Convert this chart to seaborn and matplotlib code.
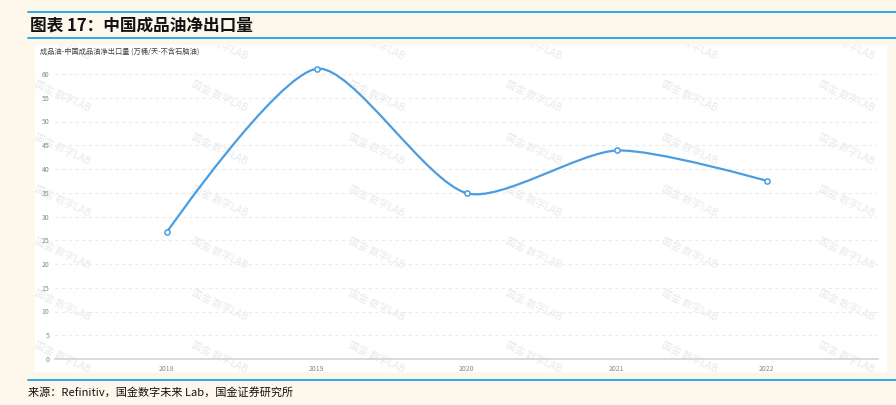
import numpy as np
import pandas as pd
import matplotlib
matplotlib.use("Agg")
import matplotlib.pyplot as plt
from matplotlib.path import Path
from matplotlib.patches import PathPatch, Rectangle
from matplotlib.lines import Line2D
import seaborn as sns

# --- data ---
years = ["2018", "2019", "2020", "2021", "2022"]
net_exports = [26.7, 61.1, 34.9, 43.9, 37.5]
y_ticks = list(range(0, 61, 5))

TITLE = "图表 17：中国成品油净出口量"
AXIS_NOTE = "成品油-中国成品油净出口量 (万桶/天-不含石脑油)"
SOURCE = "来源：Refinitiv，国金数字未来 Lab，国金证券研究所"
WATERMARK = "国金 数字LAB"

BG = "#fdf8eb"
LINE_BLUE = "#4a9de2"
RULE_BLUE = "#1aa2e8"

sns.set_theme(style="white")
plt.rcParams["font.family"] = ["Noto Sans CJK SC", "DejaVu Sans"]

df = pd.DataFrame({"year": years, "value": net_exports})
df["pos"] = np.arange(len(df))

W, H = 896, 405
fig = plt.figure(figsize=(W / 100, H / 100), dpi=100, facecolor=BG)

# white chart panel
panel = Rectangle((35 / W, 33 / H), 852 / W, 327 / H, transform=fig.transFigure,
                  facecolor="white", edgecolor="none", zorder=-2)
fig.patches.append(panel)

# faint watermarks on the panel
for cx in [62, 219, 376, 533, 689, 846]:
    for cy in [45, 97, 150, 202, 254, 306, 358]:
        t = fig.text(cx / W, 1 - cy / H, WATERMARK, fontsize=7.2, color="#e9e9e9",
                     rotation=-25, rotation_mode="anchor", ha="center", va="center", zorder=-1)
        t.set_clip_path(panel)

# blue rules, title, source
for yy in [12, 38, 380]:
    fig.add_artist(Line2D([28 / W, 1], [1 - yy / H] * 2, transform=fig.transFigure,
                          color=RULE_BLUE, lw=1.3))
fig.text(30 / W, 1 - 25 / H, TITLE, fontsize=12, fontweight="bold", color="#111111", va="center")
fig.text(28 / W, 1 - 392 / H, SOURCE, fontsize=8, color="#111111", va="center")
fig.text(40 / W, 1 - 52 / H, AXIS_NOTE, fontsize=5.2, color="#444444", va="center")

# --- chart ---
ax = fig.add_axes([55 / W, 46 / H, 823 / W, 285 / H])
ax.set_facecolor("none")
ax.set_xlim(-0.745, 4.74)
ax.set_ylim(0, 60)


def smooth_path(ax, xs, ys, smooth=0.25):
    # bezier smoothing like the original chart tool, computed in screen space
    pts = ax.transData.transform(np.column_stack([xs, ys]))
    verts = [pts[0]]
    codes = [Path.MOVETO]
    cp0 = pts[0]
    for i in range(1, len(pts)):
        p, prev = pts[i], pts[i - 1]
        if i < len(pts) - 1:
            nxt = pts[i + 1]
            v = nxt - prev
            d0 = np.hypot(*(p - prev))
            d1 = np.hypot(*(nxt - p))
            r = d1 / (d0 + d1)
            cp1 = p - v * smooth * (1 - r)
            next_cp0 = p + v * smooth * r
        else:
            cp1 = p
            next_cp0 = p
        verts += [cp0, cp1, p]
        codes += [Path.CURVE4] * 3
        cp0 = next_cp0
    verts = ax.transData.inverted().transform(np.array(verts))
    return Path(verts, codes)


curve = PathPatch(smooth_path(ax, df["pos"], df["value"]), fill=False,
                  edgecolor=LINE_BLUE, lw=1.6, zorder=3, clip_on=False)
ax.add_patch(curve)

sns.scatterplot(data=df, x="pos", y="value", ax=ax, s=14, color="white",
                edgecolor=LINE_BLUE, linewidth=1.1, zorder=4, clip_on=False)

ax.set_xticks(df["pos"], labels=years)
ax.set_yticks(y_ticks)
ax.set_xlabel("")
ax.set_ylabel("")
ax.tick_params(axis="both", length=0, labelsize=5, colors="#888888")
ax.tick_params(axis="x", pad=4)
ax.tick_params(axis="y", pad=4)
ax.yaxis.grid(True, linestyle=(0, (3, 3)), color="#ebebeb", lw=0.8)
ax.set_axisbelow(True)
for side in ["top", "right", "left"]:
    ax.spines[side].set_visible(False)
ax.spines["bottom"].set_color("#d4d4d4")
ax.spines["bottom"].set_linewidth(1.2)

fig.savefig("out.png", dpi=100, facecolor=BG)
